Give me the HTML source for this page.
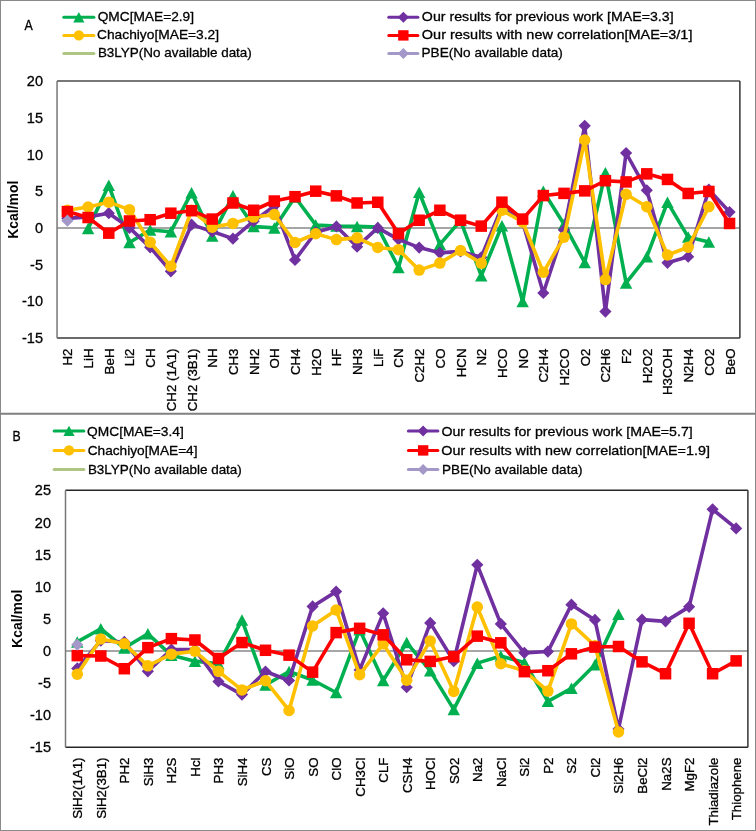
<!DOCTYPE html>
<html><head><meta charset="utf-8"><title>Chart</title>
<style>html,body{margin:0;padding:0;background:#fff;} body{width:756px;height:831px;overflow:hidden;font-family:"Liberation Sans", sans-serif;} svg{display:block;}</style>
</head><body>
<svg width="756" height="831" viewBox="0 0 756 831" font-family='"Liberation Sans", sans-serif' fill="#000">
<style>text{filter:grayscale(1);stroke:#000;stroke-width:0.3px;}</style>
<rect x="0" y="0" width="756" height="831" fill="#fff"/>
<line x1="57.05" y1="227.88" x2="739.9" y2="227.88" stroke="#A6A6A6" stroke-width="2"/>
<polyline points="88.09,228.61 108.78,185.30 129.47,242.56 150.17,230.08 170.86,231.70 191.55,192.64 212.24,235.95 232.94,195.65 253.63,226.41 274.32,227.88 295.01,197.04 315.71,224.94 336.40,226.04 357.09,226.41 377.78,227.14 398.48,267.52 419.17,192.27 439.86,244.40 460.55,220.54 481.24,275.74 501.94,225.68 522.63,301.59 543.32,191.17 564.01,224.21 584.71,262.38 605.40,172.82 626.09,282.94 646.78,256.80 667.48,202.18 688.17,237.06 708.86,241.97" fill="none" stroke="#00B050" stroke-width="3.6" stroke-linejoin="round" stroke-linecap="round"/>
<path d="M88.09 222.86L94.30 234.36L81.88 234.36Z" fill="#00B050"/>
<path d="M108.78 179.55L114.99 191.05L102.57 191.05Z" fill="#00B050"/>
<path d="M129.47 236.81L135.68 248.31L123.26 248.31Z" fill="#00B050"/>
<path d="M150.17 224.33L156.38 235.83L143.96 235.83Z" fill="#00B050"/>
<path d="M170.86 225.95L177.07 237.45L164.65 237.45Z" fill="#00B050"/>
<path d="M191.55 186.89L197.76 198.39L185.34 198.39Z" fill="#00B050"/>
<path d="M212.24 230.20L218.45 241.70L206.03 241.70Z" fill="#00B050"/>
<path d="M232.94 189.90L239.15 201.40L226.73 201.40Z" fill="#00B050"/>
<path d="M253.63 220.66L259.84 232.16L247.42 232.16Z" fill="#00B050"/>
<path d="M274.32 222.13L280.53 233.63L268.11 233.63Z" fill="#00B050"/>
<path d="M295.01 191.29L301.22 202.79L288.80 202.79Z" fill="#00B050"/>
<path d="M315.71 219.19L321.92 230.69L309.50 230.69Z" fill="#00B050"/>
<path d="M336.40 220.29L342.61 231.79L330.19 231.79Z" fill="#00B050"/>
<path d="M357.09 220.66L363.30 232.16L350.88 232.16Z" fill="#00B050"/>
<path d="M377.78 221.39L383.99 232.89L371.57 232.89Z" fill="#00B050"/>
<path d="M398.48 261.77L404.69 273.27L392.27 273.27Z" fill="#00B050"/>
<path d="M419.17 186.52L425.38 198.02L412.96 198.02Z" fill="#00B050"/>
<path d="M439.86 238.65L446.07 250.15L433.65 250.15Z" fill="#00B050"/>
<path d="M460.55 214.79L466.76 226.29L454.34 226.29Z" fill="#00B050"/>
<path d="M481.24 269.99L487.45 281.49L475.03 281.49Z" fill="#00B050"/>
<path d="M501.94 219.93L508.15 231.43L495.73 231.43Z" fill="#00B050"/>
<path d="M522.63 295.84L528.84 307.34L516.42 307.34Z" fill="#00B050"/>
<path d="M543.32 185.42L549.53 196.92L537.11 196.92Z" fill="#00B050"/>
<path d="M564.01 218.46L570.22 229.96L557.80 229.96Z" fill="#00B050"/>
<path d="M584.71 256.63L590.92 268.13L578.50 268.13Z" fill="#00B050"/>
<path d="M605.40 167.07L611.61 178.57L599.19 178.57Z" fill="#00B050"/>
<path d="M626.09 277.19L632.30 288.69L619.88 288.69Z" fill="#00B050"/>
<path d="M646.78 251.05L652.99 262.55L640.57 262.55Z" fill="#00B050"/>
<path d="M667.48 196.43L673.69 207.93L661.27 207.93Z" fill="#00B050"/>
<path d="M688.17 231.31L694.38 242.81L681.96 242.81Z" fill="#00B050"/>
<path d="M708.86 236.22L715.07 247.72L702.65 247.72Z" fill="#00B050"/>
<polyline points="67.40,218.33 88.09,216.87 108.78,213.20 129.47,227.88 150.17,247.33 170.86,271.34 191.55,224.65 212.24,231.55 232.94,238.67 253.63,221.20 274.32,206.07 295.01,259.96 315.71,232.28 336.40,226.48 357.09,246.67 377.78,227.88 398.48,239.33 419.17,247.55 439.86,252.84 460.55,251.37 481.24,257.24 501.94,206.59 522.63,222.01 543.32,293.00 564.01,230.08 584.71,125.83 605.40,311.57 626.09,153.00 646.78,190.29 667.48,262.82 688.17,256.73 708.86,189.70 729.55,212.09" fill="none" stroke="#7030A0" stroke-width="3.6" stroke-linejoin="round" stroke-linecap="round"/>
<path d="M67.40 212.24L73.49 218.33L67.40 224.43L61.30 218.33Z" fill="#7030A0"/>
<path d="M88.09 210.77L94.18 216.87L88.09 222.96L81.99 216.87Z" fill="#7030A0"/>
<path d="M108.78 207.10L114.88 213.20L108.78 219.29L102.69 213.20Z" fill="#7030A0"/>
<path d="M129.47 221.78L135.57 227.88L129.47 233.97L123.38 227.88Z" fill="#7030A0"/>
<path d="M150.17 241.24L156.26 247.33L150.17 253.43L144.07 247.33Z" fill="#7030A0"/>
<path d="M170.86 265.24L176.95 271.34L170.86 277.43L164.76 271.34Z" fill="#7030A0"/>
<path d="M191.55 218.55L197.65 224.65L191.55 230.74L185.46 224.65Z" fill="#7030A0"/>
<path d="M212.24 225.45L218.34 231.55L212.24 237.64L206.15 231.55Z" fill="#7030A0"/>
<path d="M232.94 232.58L239.03 238.67L232.94 244.77L226.84 238.67Z" fill="#7030A0"/>
<path d="M253.63 215.10L259.72 221.20L253.63 227.29L247.53 221.20Z" fill="#7030A0"/>
<path d="M274.32 199.98L280.42 206.07L274.32 212.17L268.23 206.07Z" fill="#7030A0"/>
<path d="M295.01 253.87L301.11 259.96L295.01 266.06L288.92 259.96Z" fill="#7030A0"/>
<path d="M315.71 226.19L321.80 232.28L315.71 238.38L309.61 232.28Z" fill="#7030A0"/>
<path d="M336.40 220.39L342.49 226.48L336.40 232.58L330.30 226.48Z" fill="#7030A0"/>
<path d="M357.09 240.58L363.19 246.67L357.09 252.77L351.00 246.67Z" fill="#7030A0"/>
<path d="M377.78 221.78L383.88 227.88L377.78 233.97L371.69 227.88Z" fill="#7030A0"/>
<path d="M398.48 233.24L404.57 239.33L398.48 245.43L392.38 239.33Z" fill="#7030A0"/>
<path d="M419.17 241.46L425.26 247.55L419.17 253.65L413.07 247.55Z" fill="#7030A0"/>
<path d="M439.86 246.74L445.95 252.84L439.86 258.93L433.76 252.84Z" fill="#7030A0"/>
<path d="M460.55 245.28L466.65 251.37L460.55 257.47L454.46 251.37Z" fill="#7030A0"/>
<path d="M481.24 251.15L487.34 257.24L481.24 263.34L475.15 257.24Z" fill="#7030A0"/>
<path d="M501.94 200.49L508.03 206.59L501.94 212.68L495.84 206.59Z" fill="#7030A0"/>
<path d="M522.63 215.91L528.72 222.01L522.63 228.10L516.53 222.01Z" fill="#7030A0"/>
<path d="M543.32 286.90L549.42 293.00L543.32 299.09L537.23 293.00Z" fill="#7030A0"/>
<path d="M564.01 223.99L570.11 230.08L564.01 236.18L557.92 230.08Z" fill="#7030A0"/>
<path d="M584.71 119.74L590.80 125.83L584.71 131.93L578.61 125.83Z" fill="#7030A0"/>
<path d="M605.40 305.48L611.49 311.57L605.40 317.67L599.30 311.57Z" fill="#7030A0"/>
<path d="M626.09 146.90L632.19 153.00L626.09 159.09L620.00 153.00Z" fill="#7030A0"/>
<path d="M646.78 184.20L652.88 190.29L646.78 196.39L640.69 190.29Z" fill="#7030A0"/>
<path d="M667.48 256.73L673.57 262.82L667.48 268.92L661.38 262.82Z" fill="#7030A0"/>
<path d="M688.17 250.64L694.26 256.73L688.17 262.83L682.07 256.73Z" fill="#7030A0"/>
<path d="M708.86 183.61L714.96 189.70L708.86 195.80L702.77 189.70Z" fill="#7030A0"/>
<path d="M729.55 206.00L735.65 212.09L729.55 218.19L723.46 212.09Z" fill="#7030A0"/>
<polyline points="67.40,210.33 88.09,206.96 108.78,202.18 129.47,209.67 150.17,242.27 170.86,266.27 191.55,210.26 212.24,227.14 232.94,223.40 253.63,217.09 274.32,214.59 295.01,242.49 315.71,233.75 336.40,239.62 357.09,237.86 377.78,247.48 398.48,249.68 419.17,270.09 439.86,263.12 460.55,250.56 481.24,263.26 501.94,210.26 522.63,222.01 543.32,272.29 564.01,237.13 584.71,140.00 605.40,279.56 626.09,194.33 646.78,206.74 667.48,255.04 688.17,247.26 708.86,206.74" fill="none" stroke="#FFC000" stroke-width="3.6" stroke-linejoin="round" stroke-linecap="round"/>
<circle cx="67.40" cy="210.33" r="5.75" fill="#FFC000"/>
<circle cx="88.09" cy="206.96" r="5.75" fill="#FFC000"/>
<circle cx="108.78" cy="202.18" r="5.75" fill="#FFC000"/>
<circle cx="129.47" cy="209.67" r="5.75" fill="#FFC000"/>
<circle cx="150.17" cy="242.27" r="5.75" fill="#FFC000"/>
<circle cx="170.86" cy="266.27" r="5.75" fill="#FFC000"/>
<circle cx="191.55" cy="210.26" r="5.75" fill="#FFC000"/>
<circle cx="212.24" cy="227.14" r="5.75" fill="#FFC000"/>
<circle cx="232.94" cy="223.40" r="5.75" fill="#FFC000"/>
<circle cx="253.63" cy="217.09" r="5.75" fill="#FFC000"/>
<circle cx="274.32" cy="214.59" r="5.75" fill="#FFC000"/>
<circle cx="295.01" cy="242.49" r="5.75" fill="#FFC000"/>
<circle cx="315.71" cy="233.75" r="5.75" fill="#FFC000"/>
<circle cx="336.40" cy="239.62" r="5.75" fill="#FFC000"/>
<circle cx="357.09" cy="237.86" r="5.75" fill="#FFC000"/>
<circle cx="377.78" cy="247.48" r="5.75" fill="#FFC000"/>
<circle cx="398.48" cy="249.68" r="5.75" fill="#FFC000"/>
<circle cx="419.17" cy="270.09" r="5.75" fill="#FFC000"/>
<circle cx="439.86" cy="263.12" r="5.75" fill="#FFC000"/>
<circle cx="460.55" cy="250.56" r="5.75" fill="#FFC000"/>
<circle cx="481.24" cy="263.26" r="5.75" fill="#FFC000"/>
<circle cx="501.94" cy="210.26" r="5.75" fill="#FFC000"/>
<circle cx="522.63" cy="222.01" r="5.75" fill="#FFC000"/>
<circle cx="543.32" cy="272.29" r="5.75" fill="#FFC000"/>
<circle cx="564.01" cy="237.13" r="5.75" fill="#FFC000"/>
<circle cx="584.71" cy="140.00" r="5.75" fill="#FFC000"/>
<circle cx="605.40" cy="279.56" r="5.75" fill="#FFC000"/>
<circle cx="626.09" cy="194.33" r="5.75" fill="#FFC000"/>
<circle cx="646.78" cy="206.74" r="5.75" fill="#FFC000"/>
<circle cx="667.48" cy="255.04" r="5.75" fill="#FFC000"/>
<circle cx="688.17" cy="247.26" r="5.75" fill="#FFC000"/>
<circle cx="708.86" cy="206.74" r="5.75" fill="#FFC000"/>
<polyline points="67.40,211.58 88.09,217.53 108.78,233.16 129.47,220.98 150.17,219.73 170.86,213.20 191.55,210.70 212.24,219.07 232.94,202.99 253.63,210.26 274.32,201.01 295.01,196.68 315.71,191.17 336.40,195.87 357.09,202.99 377.78,202.26 398.48,233.60 419.17,220.24 439.86,210.26 460.55,220.17 481.24,226.12 501.94,202.18 522.63,219.07 543.32,195.58 564.01,193.37 584.71,190.88 605.40,180.75 626.09,181.92 646.78,173.85 667.48,179.43 688.17,193.45 708.86,191.47 729.55,223.47" fill="none" stroke="#FF0000" stroke-width="3.6" stroke-linejoin="round" stroke-linecap="round"/>
<rect x="61.65" y="205.83" width="11.50" height="11.50" fill="#FF0000"/>
<rect x="82.34" y="211.78" width="11.50" height="11.50" fill="#FF0000"/>
<rect x="103.03" y="227.41" width="11.50" height="11.50" fill="#FF0000"/>
<rect x="123.72" y="215.23" width="11.50" height="11.50" fill="#FF0000"/>
<rect x="144.42" y="213.98" width="11.50" height="11.50" fill="#FF0000"/>
<rect x="165.11" y="207.45" width="11.50" height="11.50" fill="#FF0000"/>
<rect x="185.80" y="204.95" width="11.50" height="11.50" fill="#FF0000"/>
<rect x="206.49" y="213.32" width="11.50" height="11.50" fill="#FF0000"/>
<rect x="227.19" y="197.24" width="11.50" height="11.50" fill="#FF0000"/>
<rect x="247.88" y="204.51" width="11.50" height="11.50" fill="#FF0000"/>
<rect x="268.57" y="195.26" width="11.50" height="11.50" fill="#FF0000"/>
<rect x="289.26" y="190.93" width="11.50" height="11.50" fill="#FF0000"/>
<rect x="309.96" y="185.42" width="11.50" height="11.50" fill="#FF0000"/>
<rect x="330.65" y="190.12" width="11.50" height="11.50" fill="#FF0000"/>
<rect x="351.34" y="197.24" width="11.50" height="11.50" fill="#FF0000"/>
<rect x="372.03" y="196.51" width="11.50" height="11.50" fill="#FF0000"/>
<rect x="392.73" y="227.85" width="11.50" height="11.50" fill="#FF0000"/>
<rect x="413.42" y="214.49" width="11.50" height="11.50" fill="#FF0000"/>
<rect x="434.11" y="204.51" width="11.50" height="11.50" fill="#FF0000"/>
<rect x="454.80" y="214.42" width="11.50" height="11.50" fill="#FF0000"/>
<rect x="475.49" y="220.37" width="11.50" height="11.50" fill="#FF0000"/>
<rect x="496.19" y="196.43" width="11.50" height="11.50" fill="#FF0000"/>
<rect x="516.88" y="213.32" width="11.50" height="11.50" fill="#FF0000"/>
<rect x="537.57" y="189.83" width="11.50" height="11.50" fill="#FF0000"/>
<rect x="558.26" y="187.62" width="11.50" height="11.50" fill="#FF0000"/>
<rect x="578.96" y="185.13" width="11.50" height="11.50" fill="#FF0000"/>
<rect x="599.65" y="175.00" width="11.50" height="11.50" fill="#FF0000"/>
<rect x="620.34" y="176.17" width="11.50" height="11.50" fill="#FF0000"/>
<rect x="641.03" y="168.10" width="11.50" height="11.50" fill="#FF0000"/>
<rect x="661.73" y="173.68" width="11.50" height="11.50" fill="#FF0000"/>
<rect x="682.42" y="187.70" width="11.50" height="11.50" fill="#FF0000"/>
<rect x="703.11" y="185.72" width="11.50" height="11.50" fill="#FF0000"/>
<rect x="723.80" y="217.72" width="11.50" height="11.50" fill="#FF0000"/>
<path d="M67.40 214.59L73.49 220.68L67.40 226.78L61.30 220.68Z" fill="#A398C8"/>
<line x1="57.05" y1="81.05" x2="739.9" y2="81.05" stroke="#4a4a4a" stroke-width="1.5"/>
<line x1="739.9" y1="81.05" x2="739.9" y2="338" stroke="#333" stroke-width="1.5"/>
<line x1="57.05" y1="338" x2="739.9" y2="338" stroke="#383838" stroke-width="1.5"/>
<line x1="57.05" y1="81.05" x2="57.05" y2="338" stroke="#777" stroke-width="1.5"/>
<text x="43" y="86.15" text-anchor="end" font-size="14.5">20</text>
<text x="43" y="122.86" text-anchor="end" font-size="14.5">15</text>
<text x="43" y="159.56" text-anchor="end" font-size="14.5">10</text>
<text x="43" y="196.27" text-anchor="end" font-size="14.5">5</text>
<text x="43" y="232.98" text-anchor="end" font-size="14.5">0</text>
<text x="43" y="269.69" text-anchor="end" font-size="14.5">-5</text>
<text x="43" y="306.39" text-anchor="end" font-size="14.5">-10</text>
<text x="43" y="343.10" text-anchor="end" font-size="14.5">-15</text>
<text transform="translate(18,209.7) rotate(-90)" text-anchor="middle" font-size="14" font-weight="bold" style="stroke:none">Kcal/mol</text>
<text transform="translate(72.40,348.5) rotate(-90)" text-anchor="end" font-size="13.3">H2</text>
<text transform="translate(93.09,348.5) rotate(-90)" text-anchor="end" font-size="13.3">LiH</text>
<text transform="translate(113.78,348.5) rotate(-90)" text-anchor="end" font-size="13.3">BeH</text>
<text transform="translate(134.47,348.5) rotate(-90)" text-anchor="end" font-size="13.3">Li2</text>
<text transform="translate(155.17,348.5) rotate(-90)" text-anchor="end" font-size="13.3">CH</text>
<text transform="translate(175.86,348.5) rotate(-90)" text-anchor="end" font-size="13.3">CH2 (1A1)</text>
<text transform="translate(196.55,348.5) rotate(-90)" text-anchor="end" font-size="13.3">CH2 (3B1)</text>
<text transform="translate(217.24,348.5) rotate(-90)" text-anchor="end" font-size="13.3">NH</text>
<text transform="translate(237.94,348.5) rotate(-90)" text-anchor="end" font-size="13.3">CH3</text>
<text transform="translate(258.63,348.5) rotate(-90)" text-anchor="end" font-size="13.3">NH2</text>
<text transform="translate(279.32,348.5) rotate(-90)" text-anchor="end" font-size="13.3">OH</text>
<text transform="translate(300.01,348.5) rotate(-90)" text-anchor="end" font-size="13.3">CH4</text>
<text transform="translate(320.71,348.5) rotate(-90)" text-anchor="end" font-size="13.3">H2O</text>
<text transform="translate(341.40,348.5) rotate(-90)" text-anchor="end" font-size="13.3">HF</text>
<text transform="translate(362.09,348.5) rotate(-90)" text-anchor="end" font-size="13.3">NH3</text>
<text transform="translate(382.78,348.5) rotate(-90)" text-anchor="end" font-size="13.3">LiF</text>
<text transform="translate(403.48,348.5) rotate(-90)" text-anchor="end" font-size="13.3">CN</text>
<text transform="translate(424.17,348.5) rotate(-90)" text-anchor="end" font-size="13.3">C2H2</text>
<text transform="translate(444.86,348.5) rotate(-90)" text-anchor="end" font-size="13.3">CO</text>
<text transform="translate(465.55,348.5) rotate(-90)" text-anchor="end" font-size="13.3">HCN</text>
<text transform="translate(486.24,348.5) rotate(-90)" text-anchor="end" font-size="13.3">N2</text>
<text transform="translate(506.94,348.5) rotate(-90)" text-anchor="end" font-size="13.3">HCO</text>
<text transform="translate(527.63,348.5) rotate(-90)" text-anchor="end" font-size="13.3">NO</text>
<text transform="translate(548.32,348.5) rotate(-90)" text-anchor="end" font-size="13.3">C2H4</text>
<text transform="translate(569.01,348.5) rotate(-90)" text-anchor="end" font-size="13.3">H2CO</text>
<text transform="translate(589.71,348.5) rotate(-90)" text-anchor="end" font-size="13.3">O2</text>
<text transform="translate(610.40,348.5) rotate(-90)" text-anchor="end" font-size="13.3">C2H6</text>
<text transform="translate(631.09,348.5) rotate(-90)" text-anchor="end" font-size="13.3">F2</text>
<text transform="translate(651.78,348.5) rotate(-90)" text-anchor="end" font-size="13.3">H2O2</text>
<text transform="translate(672.48,348.5) rotate(-90)" text-anchor="end" font-size="13.3">H3COH</text>
<text transform="translate(693.17,348.5) rotate(-90)" text-anchor="end" font-size="13.3">N2H4</text>
<text transform="translate(713.86,348.5) rotate(-90)" text-anchor="end" font-size="13.3">CO2</text>
<text transform="translate(734.55,348.5) rotate(-90)" text-anchor="end" font-size="13.3">BeO</text>
<line x1="63.8" y1="17.3" x2="93.9" y2="17.3" stroke="#00B050" stroke-width="3.0" stroke-linecap="round"/>
<path d="M78.85 12.10L84.47 22.50L73.23 22.50Z" fill="#00B050"/>
<line x1="63.8" y1="35.4" x2="93.9" y2="35.4" stroke="#FFC000" stroke-width="3.0" stroke-linecap="round"/>
<circle cx="78.85" cy="35.40" r="5.20" fill="#FFC000"/>
<line x1="63.8" y1="53.6" x2="93.9" y2="53.6" stroke="#AEC583" stroke-width="3.0" stroke-linecap="round"/>
<line x1="388.8" y1="17.3" x2="417.9" y2="17.3" stroke="#7030A0" stroke-width="3.0" stroke-linecap="round"/>
<path d="M403.35 11.79L408.86 17.30L403.35 22.81L397.84 17.30Z" fill="#7030A0"/>
<line x1="388.8" y1="35.4" x2="417.9" y2="35.4" stroke="#FF0000" stroke-width="3.0" stroke-linecap="round"/>
<rect x="398.15" y="30.20" width="10.40" height="10.40" fill="#FF0000"/>
<line x1="388.8" y1="53.6" x2="417.9" y2="53.6" stroke="#A398C8" stroke-width="3.0" stroke-linecap="round"/>
<path d="M403.35 48.09L408.86 53.60L403.35 59.11L397.84 53.60Z" fill="#A398C8"/>
<text id="Aleg0" x="97.70" y="20.80" font-size="13.5" textLength="96.31" lengthAdjust="spacingAndGlyphs" >QMC[MAE=2.9]</text>
<text id="Aleg1" x="96.99" y="39.40" font-size="13.5" textLength="122.10" lengthAdjust="spacingAndGlyphs" >Chachiyo[MAE=3.2]</text>
<text id="Aleg2" x="97.90" y="57.40" font-size="13.5" textLength="153.95" lengthAdjust="spacingAndGlyphs" >B3LYP(No available data)</text>
<text id="Aleg3" x="421.87" y="20.80" font-size="13.5" textLength="251.78" lengthAdjust="spacingAndGlyphs" >Our results for previous work [MAE=3.3]</text>
<text id="Aleg4" x="421.86" y="39.40" font-size="13.5" textLength="270.55" lengthAdjust="spacingAndGlyphs" >Our results with new correlation[MAE=3/1]</text>
<text id="Aleg5" x="421.50" y="57.40" font-size="13.5" textLength="141.33" lengthAdjust="spacingAndGlyphs" >PBE(No available data)</text>
<text id="Alab" x="24.41" y="30.30" font-size="14.3" textLength="8.26" lengthAdjust="spacingAndGlyphs" >A</text>
<line x1="65.5" y1="650.92" x2="747.9" y2="650.92" stroke="#A6A6A6" stroke-width="2"/>
<polyline points="77.27,641.93 100.80,628.76 124.33,648.03 147.86,633.83 171.39,655.29 194.92,661.14 218.45,663.77 241.98,620.09 265.51,684.98 289.04,671.48 312.58,680.03 336.11,692.49 359.64,629.72 383.17,680.48 406.70,642.57 430.23,670.84 453.76,709.39 477.29,663.13 500.82,656.06 524.36,662.49 547.89,701.36 571.42,688.32 594.95,664.80 618.48,614.30" fill="none" stroke="#00B050" stroke-width="3.6" stroke-linejoin="round" stroke-linecap="round"/>
<path d="M77.27 636.18L83.48 647.68L71.06 647.68Z" fill="#00B050"/>
<path d="M100.80 623.01L107.01 634.51L94.59 634.51Z" fill="#00B050"/>
<path d="M124.33 642.28L130.54 653.78L118.12 653.78Z" fill="#00B050"/>
<path d="M147.86 628.08L154.07 639.58L141.65 639.58Z" fill="#00B050"/>
<path d="M171.39 649.54L177.60 661.04L165.18 661.04Z" fill="#00B050"/>
<path d="M194.92 655.39L201.13 666.89L188.71 666.89Z" fill="#00B050"/>
<path d="M218.45 658.02L224.66 669.52L212.24 669.52Z" fill="#00B050"/>
<path d="M241.98 614.34L248.19 625.84L235.77 625.84Z" fill="#00B050"/>
<path d="M265.51 679.23L271.72 690.73L259.30 690.73Z" fill="#00B050"/>
<path d="M289.04 665.73L295.25 677.23L282.83 677.23Z" fill="#00B050"/>
<path d="M312.58 674.28L318.79 685.78L306.37 685.78Z" fill="#00B050"/>
<path d="M336.11 686.74L342.32 698.24L329.90 698.24Z" fill="#00B050"/>
<path d="M359.64 623.97L365.85 635.47L353.43 635.47Z" fill="#00B050"/>
<path d="M383.17 674.73L389.38 686.23L376.96 686.23Z" fill="#00B050"/>
<path d="M406.70 636.82L412.91 648.32L400.49 648.32Z" fill="#00B050"/>
<path d="M430.23 665.09L436.44 676.59L424.02 676.59Z" fill="#00B050"/>
<path d="M453.76 703.64L459.97 715.14L447.55 715.14Z" fill="#00B050"/>
<path d="M477.29 657.38L483.50 668.88L471.08 668.88Z" fill="#00B050"/>
<path d="M500.82 650.31L507.03 661.81L494.61 661.81Z" fill="#00B050"/>
<path d="M524.36 656.74L530.57 668.24L518.15 668.24Z" fill="#00B050"/>
<path d="M547.89 695.61L554.10 707.11L541.68 707.11Z" fill="#00B050"/>
<path d="M571.42 682.57L577.63 694.07L565.21 694.07Z" fill="#00B050"/>
<path d="M594.95 659.05L601.16 670.55L588.74 670.55Z" fill="#00B050"/>
<path d="M618.48 608.55L624.69 620.05L612.27 620.05Z" fill="#00B050"/>
<polyline points="77.27,668.40 100.80,640.64 124.33,641.93 147.86,671.29 171.39,649.51 194.92,649.64 218.45,681.51 241.98,694.62 265.51,671.48 289.04,680.48 312.58,606.40 336.11,591.62 359.64,669.88 383.17,613.34 406.70,687.23 430.23,622.91 453.76,661.20 477.29,564.83 500.82,623.94 524.36,652.85 547.89,651.57 571.42,604.66 594.95,619.96 618.48,728.99 642.01,619.64 665.54,621.37 689.07,606.85 712.60,509.32 736.13,528.46" fill="none" stroke="#7030A0" stroke-width="3.6" stroke-linejoin="round" stroke-linecap="round"/>
<path d="M77.27 662.31L83.36 668.40L77.27 674.50L71.17 668.40Z" fill="#7030A0"/>
<path d="M100.80 634.55L106.89 640.64L100.80 646.74L94.70 640.64Z" fill="#7030A0"/>
<path d="M124.33 635.83L130.42 641.93L124.33 648.02L118.23 641.93Z" fill="#7030A0"/>
<path d="M147.86 665.20L153.95 671.29L147.86 677.39L141.76 671.29Z" fill="#7030A0"/>
<path d="M171.39 643.42L177.48 649.51L171.39 655.61L165.29 649.51Z" fill="#7030A0"/>
<path d="M194.92 643.54L201.02 649.64L194.92 655.74L188.83 649.64Z" fill="#7030A0"/>
<path d="M218.45 675.41L224.55 681.51L218.45 687.60L212.36 681.51Z" fill="#7030A0"/>
<path d="M241.98 688.52L248.08 694.62L241.98 700.71L235.89 694.62Z" fill="#7030A0"/>
<path d="M265.51 665.39L271.61 671.48L265.51 677.58L259.42 671.48Z" fill="#7030A0"/>
<path d="M289.04 674.38L295.14 680.48L289.04 686.58L282.95 680.48Z" fill="#7030A0"/>
<path d="M312.58 600.30L318.67 606.40L312.58 612.49L306.48 606.40Z" fill="#7030A0"/>
<path d="M336.11 585.53L342.20 591.62L336.11 597.72L330.01 591.62Z" fill="#7030A0"/>
<path d="M359.64 663.78L365.73 669.88L359.64 675.97L353.54 669.88Z" fill="#7030A0"/>
<path d="M383.17 607.24L389.26 613.34L383.17 619.43L377.07 613.34Z" fill="#7030A0"/>
<path d="M406.70 681.13L412.80 687.23L406.70 693.32L400.60 687.23Z" fill="#7030A0"/>
<path d="M430.23 616.82L436.33 622.91L430.23 629.01L424.14 622.91Z" fill="#7030A0"/>
<path d="M453.76 655.11L459.86 661.20L453.76 667.30L447.67 661.20Z" fill="#7030A0"/>
<path d="M477.29 558.74L483.39 564.83L477.29 570.93L471.20 564.83Z" fill="#7030A0"/>
<path d="M500.82 617.85L506.92 623.94L500.82 630.04L494.73 623.94Z" fill="#7030A0"/>
<path d="M524.36 646.76L530.45 652.85L524.36 658.95L518.26 652.85Z" fill="#7030A0"/>
<path d="M547.89 645.47L553.98 651.57L547.89 657.66L541.79 651.57Z" fill="#7030A0"/>
<path d="M571.42 598.57L577.51 604.66L571.42 610.76L565.32 604.66Z" fill="#7030A0"/>
<path d="M594.95 613.86L601.04 619.96L594.95 626.05L588.85 619.96Z" fill="#7030A0"/>
<path d="M618.48 722.89L624.57 728.99L618.48 735.08L612.38 728.99Z" fill="#7030A0"/>
<path d="M642.01 613.54L648.11 619.64L642.01 625.73L635.92 619.64Z" fill="#7030A0"/>
<path d="M665.54 615.27L671.64 621.37L665.54 627.47L659.45 621.37Z" fill="#7030A0"/>
<path d="M689.07 600.75L695.17 606.85L689.07 612.94L682.98 606.85Z" fill="#7030A0"/>
<path d="M712.60 503.22L718.70 509.32L712.60 515.41L706.51 509.32Z" fill="#7030A0"/>
<path d="M736.13 522.37L742.23 528.46L736.13 534.56L730.04 528.46Z" fill="#7030A0"/>
<polyline points="77.27,674.25 100.80,639.04 124.33,643.73 147.86,665.83 171.39,654.14 194.92,651.25 218.45,671.36 241.98,689.92 265.51,680.80 289.04,710.48 312.58,626.00 336.11,610.00 359.64,674.70 383.17,643.86 406.70,680.16 430.23,640.90 453.76,691.40 477.29,606.98 500.82,663.77 524.36,670.84 547.89,691.08 571.42,623.94 594.95,645.78 618.48,731.88" fill="none" stroke="#FFC000" stroke-width="3.6" stroke-linejoin="round" stroke-linecap="round"/>
<circle cx="77.27" cy="674.25" r="5.75" fill="#FFC000"/>
<circle cx="100.80" cy="639.04" r="5.75" fill="#FFC000"/>
<circle cx="124.33" cy="643.73" r="5.75" fill="#FFC000"/>
<circle cx="147.86" cy="665.83" r="5.75" fill="#FFC000"/>
<circle cx="171.39" cy="654.14" r="5.75" fill="#FFC000"/>
<circle cx="194.92" cy="651.25" r="5.75" fill="#FFC000"/>
<circle cx="218.45" cy="671.36" r="5.75" fill="#FFC000"/>
<circle cx="241.98" cy="689.92" r="5.75" fill="#FFC000"/>
<circle cx="265.51" cy="680.80" r="5.75" fill="#FFC000"/>
<circle cx="289.04" cy="710.48" r="5.75" fill="#FFC000"/>
<circle cx="312.58" cy="626.00" r="5.75" fill="#FFC000"/>
<circle cx="336.11" cy="610.00" r="5.75" fill="#FFC000"/>
<circle cx="359.64" cy="674.70" r="5.75" fill="#FFC000"/>
<circle cx="383.17" cy="643.86" r="5.75" fill="#FFC000"/>
<circle cx="406.70" cy="680.16" r="5.75" fill="#FFC000"/>
<circle cx="430.23" cy="640.90" r="5.75" fill="#FFC000"/>
<circle cx="453.76" cy="691.40" r="5.75" fill="#FFC000"/>
<circle cx="477.29" cy="606.98" r="5.75" fill="#FFC000"/>
<circle cx="500.82" cy="663.77" r="5.75" fill="#FFC000"/>
<circle cx="524.36" cy="670.84" r="5.75" fill="#FFC000"/>
<circle cx="547.89" cy="691.08" r="5.75" fill="#FFC000"/>
<circle cx="571.42" cy="623.94" r="5.75" fill="#FFC000"/>
<circle cx="594.95" cy="645.78" r="5.75" fill="#FFC000"/>
<circle cx="618.48" cy="731.88" r="5.75" fill="#FFC000"/>
<polyline points="77.27,655.62 100.80,656.00 124.33,668.72 147.86,647.65 171.39,638.65 194.92,640.00 218.45,658.51 241.98,642.57 265.51,650.28 289.04,655.17 312.58,672.13 336.11,632.61 359.64,628.31 383.17,634.86 406.70,659.79 430.23,661.40 453.76,656.58 477.29,636.15 500.82,642.83 524.36,671.68 547.89,670.71 571.42,653.82 594.95,647.07 618.48,646.49 642.01,661.85 665.54,673.73 689.07,623.30 712.60,673.73 736.13,660.88" fill="none" stroke="#FF0000" stroke-width="3.6" stroke-linejoin="round" stroke-linecap="round"/>
<rect x="71.52" y="649.87" width="11.50" height="11.50" fill="#FF0000"/>
<rect x="95.05" y="650.25" width="11.50" height="11.50" fill="#FF0000"/>
<rect x="118.58" y="662.97" width="11.50" height="11.50" fill="#FF0000"/>
<rect x="142.11" y="641.90" width="11.50" height="11.50" fill="#FF0000"/>
<rect x="165.64" y="632.90" width="11.50" height="11.50" fill="#FF0000"/>
<rect x="189.17" y="634.25" width="11.50" height="11.50" fill="#FF0000"/>
<rect x="212.70" y="652.76" width="11.50" height="11.50" fill="#FF0000"/>
<rect x="236.23" y="636.82" width="11.50" height="11.50" fill="#FF0000"/>
<rect x="259.76" y="644.53" width="11.50" height="11.50" fill="#FF0000"/>
<rect x="283.29" y="649.42" width="11.50" height="11.50" fill="#FF0000"/>
<rect x="306.83" y="666.38" width="11.50" height="11.50" fill="#FF0000"/>
<rect x="330.36" y="626.86" width="11.50" height="11.50" fill="#FF0000"/>
<rect x="353.89" y="622.56" width="11.50" height="11.50" fill="#FF0000"/>
<rect x="377.42" y="629.11" width="11.50" height="11.50" fill="#FF0000"/>
<rect x="400.95" y="654.04" width="11.50" height="11.50" fill="#FF0000"/>
<rect x="424.48" y="655.65" width="11.50" height="11.50" fill="#FF0000"/>
<rect x="448.01" y="650.83" width="11.50" height="11.50" fill="#FF0000"/>
<rect x="471.54" y="630.40" width="11.50" height="11.50" fill="#FF0000"/>
<rect x="495.07" y="637.08" width="11.50" height="11.50" fill="#FF0000"/>
<rect x="518.61" y="665.93" width="11.50" height="11.50" fill="#FF0000"/>
<rect x="542.14" y="664.96" width="11.50" height="11.50" fill="#FF0000"/>
<rect x="565.67" y="648.07" width="11.50" height="11.50" fill="#FF0000"/>
<rect x="589.20" y="641.32" width="11.50" height="11.50" fill="#FF0000"/>
<rect x="612.73" y="640.74" width="11.50" height="11.50" fill="#FF0000"/>
<rect x="636.26" y="656.10" width="11.50" height="11.50" fill="#FF0000"/>
<rect x="659.79" y="667.98" width="11.50" height="11.50" fill="#FF0000"/>
<rect x="683.32" y="617.55" width="11.50" height="11.50" fill="#FF0000"/>
<rect x="706.85" y="667.98" width="11.50" height="11.50" fill="#FF0000"/>
<rect x="730.38" y="655.13" width="11.50" height="11.50" fill="#FF0000"/>
<path d="M77.27 638.60L83.36 644.69L77.27 650.79L71.17 644.69Z" fill="#A398C8"/>
<line x1="65.5" y1="490.3" x2="747.9" y2="490.3" stroke="#262626" stroke-width="1.5"/>
<line x1="747.9" y1="490.3" x2="747.9" y2="747.3" stroke="#333" stroke-width="1.5"/>
<line x1="65.5" y1="747.3" x2="747.9" y2="747.3" stroke="#262626" stroke-width="1.5"/>
<line x1="65.5" y1="490.3" x2="65.5" y2="747.3" stroke="#777" stroke-width="1.5"/>
<text x="51" y="495.40" text-anchor="end" font-size="14.5">25</text>
<text x="51" y="527.52" text-anchor="end" font-size="14.5">20</text>
<text x="51" y="559.65" text-anchor="end" font-size="14.5">15</text>
<text x="51" y="591.77" text-anchor="end" font-size="14.5">10</text>
<text x="51" y="623.90" text-anchor="end" font-size="14.5">5</text>
<text x="51" y="656.02" text-anchor="end" font-size="14.5">0</text>
<text x="51" y="688.15" text-anchor="end" font-size="14.5">-5</text>
<text x="51" y="720.27" text-anchor="end" font-size="14.5">-10</text>
<text x="51" y="752.40" text-anchor="end" font-size="14.5">-15</text>
<text transform="translate(22,618.8) rotate(-90)" text-anchor="middle" font-size="14" font-weight="bold" style="stroke:none">Kcal/mol</text>
<text transform="translate(82.27,757.5) rotate(-90)" text-anchor="end" font-size="13.3">SiH2(1A1)</text>
<text transform="translate(105.80,757.5) rotate(-90)" text-anchor="end" font-size="13.3">SiH2(3B1)</text>
<text transform="translate(129.33,757.5) rotate(-90)" text-anchor="end" font-size="13.3">PH2</text>
<text transform="translate(152.86,757.5) rotate(-90)" text-anchor="end" font-size="13.3">SiH3</text>
<text transform="translate(176.39,757.5) rotate(-90)" text-anchor="end" font-size="13.3">H2S</text>
<text transform="translate(199.92,757.5) rotate(-90)" text-anchor="end" font-size="13.3">Hcl</text>
<text transform="translate(223.45,757.5) rotate(-90)" text-anchor="end" font-size="13.3">PH3</text>
<text transform="translate(246.98,757.5) rotate(-90)" text-anchor="end" font-size="13.3">SiH4</text>
<text transform="translate(270.51,757.5) rotate(-90)" text-anchor="end" font-size="13.3">CS</text>
<text transform="translate(294.04,757.5) rotate(-90)" text-anchor="end" font-size="13.3">SiO</text>
<text transform="translate(317.58,757.5) rotate(-90)" text-anchor="end" font-size="13.3">SO</text>
<text transform="translate(341.11,757.5) rotate(-90)" text-anchor="end" font-size="13.3">ClO</text>
<text transform="translate(364.64,757.5) rotate(-90)" text-anchor="end" font-size="13.3">CH3Cl</text>
<text transform="translate(388.17,757.5) rotate(-90)" text-anchor="end" font-size="13.3">CLF</text>
<text transform="translate(411.70,757.5) rotate(-90)" text-anchor="end" font-size="13.3">CSH4</text>
<text transform="translate(435.23,757.5) rotate(-90)" text-anchor="end" font-size="13.3">HOCl</text>
<text transform="translate(458.76,757.5) rotate(-90)" text-anchor="end" font-size="13.3">SO2</text>
<text transform="translate(482.29,757.5) rotate(-90)" text-anchor="end" font-size="13.3">Na2</text>
<text transform="translate(505.82,757.5) rotate(-90)" text-anchor="end" font-size="13.3">NaCl</text>
<text transform="translate(529.36,757.5) rotate(-90)" text-anchor="end" font-size="13.3">Si2</text>
<text transform="translate(552.89,757.5) rotate(-90)" text-anchor="end" font-size="13.3">P2</text>
<text transform="translate(576.42,757.5) rotate(-90)" text-anchor="end" font-size="13.3">S2</text>
<text transform="translate(599.95,757.5) rotate(-90)" text-anchor="end" font-size="13.3">Cl2</text>
<text transform="translate(623.48,757.5) rotate(-90)" text-anchor="end" font-size="13.3">Si2H6</text>
<text transform="translate(647.01,757.5) rotate(-90)" text-anchor="end" font-size="13.3">BeCl2</text>
<text transform="translate(670.54,757.5) rotate(-90)" text-anchor="end" font-size="13.3">Na2S</text>
<text transform="translate(694.07,757.5) rotate(-90)" text-anchor="end" font-size="13.3">MgF2</text>
<text transform="translate(717.60,757.5) rotate(-90)" text-anchor="end" font-size="13.3">Thiadiazole</text>
<text transform="translate(741.13,757.5) rotate(-90)" text-anchor="end" font-size="13.3">Thiophene</text>
<line x1="54.1" y1="430.9" x2="83.9" y2="430.9" stroke="#00B050" stroke-width="3.0" stroke-linecap="round"/>
<path d="M69.00 425.70L74.62 436.10L63.38 436.10Z" fill="#00B050"/>
<line x1="54.1" y1="450.4" x2="83.9" y2="450.4" stroke="#FFC000" stroke-width="3.0" stroke-linecap="round"/>
<circle cx="69.00" cy="450.40" r="5.20" fill="#FFC000"/>
<line x1="54.1" y1="469.6" x2="83.9" y2="469.6" stroke="#AEC583" stroke-width="3.0" stroke-linecap="round"/>
<line x1="408.4" y1="430.9" x2="437.9" y2="430.9" stroke="#7030A0" stroke-width="3.0" stroke-linecap="round"/>
<path d="M423.15 425.39L428.66 430.90L423.15 436.41L417.64 430.90Z" fill="#7030A0"/>
<line x1="408.4" y1="450.4" x2="437.9" y2="450.4" stroke="#FF0000" stroke-width="3.0" stroke-linecap="round"/>
<rect x="417.95" y="445.20" width="10.40" height="10.40" fill="#FF0000"/>
<line x1="408.4" y1="469.6" x2="437.9" y2="469.6" stroke="#A398C8" stroke-width="3.0" stroke-linecap="round"/>
<path d="M423.15 464.09L428.66 469.60L423.15 475.11L417.64 469.60Z" fill="#A398C8"/>
<text id="Bleg0" x="87.10" y="435.60" font-size="13.5" textLength="96.71" lengthAdjust="spacingAndGlyphs" >QMC[MAE=3.4]</text>
<text id="Bleg1" x="87.70" y="454.70" font-size="13.5" textLength="109.85" lengthAdjust="spacingAndGlyphs" >Chachiyo[MAE=4]</text>
<text id="Bleg2" x="87.90" y="473.80" font-size="13.5" textLength="153.95" lengthAdjust="spacingAndGlyphs" >B3LYP(No available data)</text>
<text id="Bleg3" x="441.40" y="435.60" font-size="13.5" textLength="251.32" lengthAdjust="spacingAndGlyphs" >Our results for previous work [MAE=5.7]</text>
<text id="Bleg4" x="441.39" y="454.70" font-size="13.5" textLength="268.54" lengthAdjust="spacingAndGlyphs" >Our results with new correlation[MAE=1.9]</text>
<text id="Bleg5" x="441.90" y="473.80" font-size="13.5" textLength="140.53" lengthAdjust="spacingAndGlyphs" >PBE(No available data)</text>
<text id="Blab" x="12.41" y="440.70" font-size="14.3" textLength="8.18" lengthAdjust="spacingAndGlyphs" >B</text>
<rect x="0.5" y="0.5" width="755" height="830" fill="none" stroke="#8a8a8a" stroke-width="1"/>
<line x1="0" y1="413.75" x2="756" y2="413.75" stroke="#808080" stroke-width="2"/>
</svg>
</body></html>
